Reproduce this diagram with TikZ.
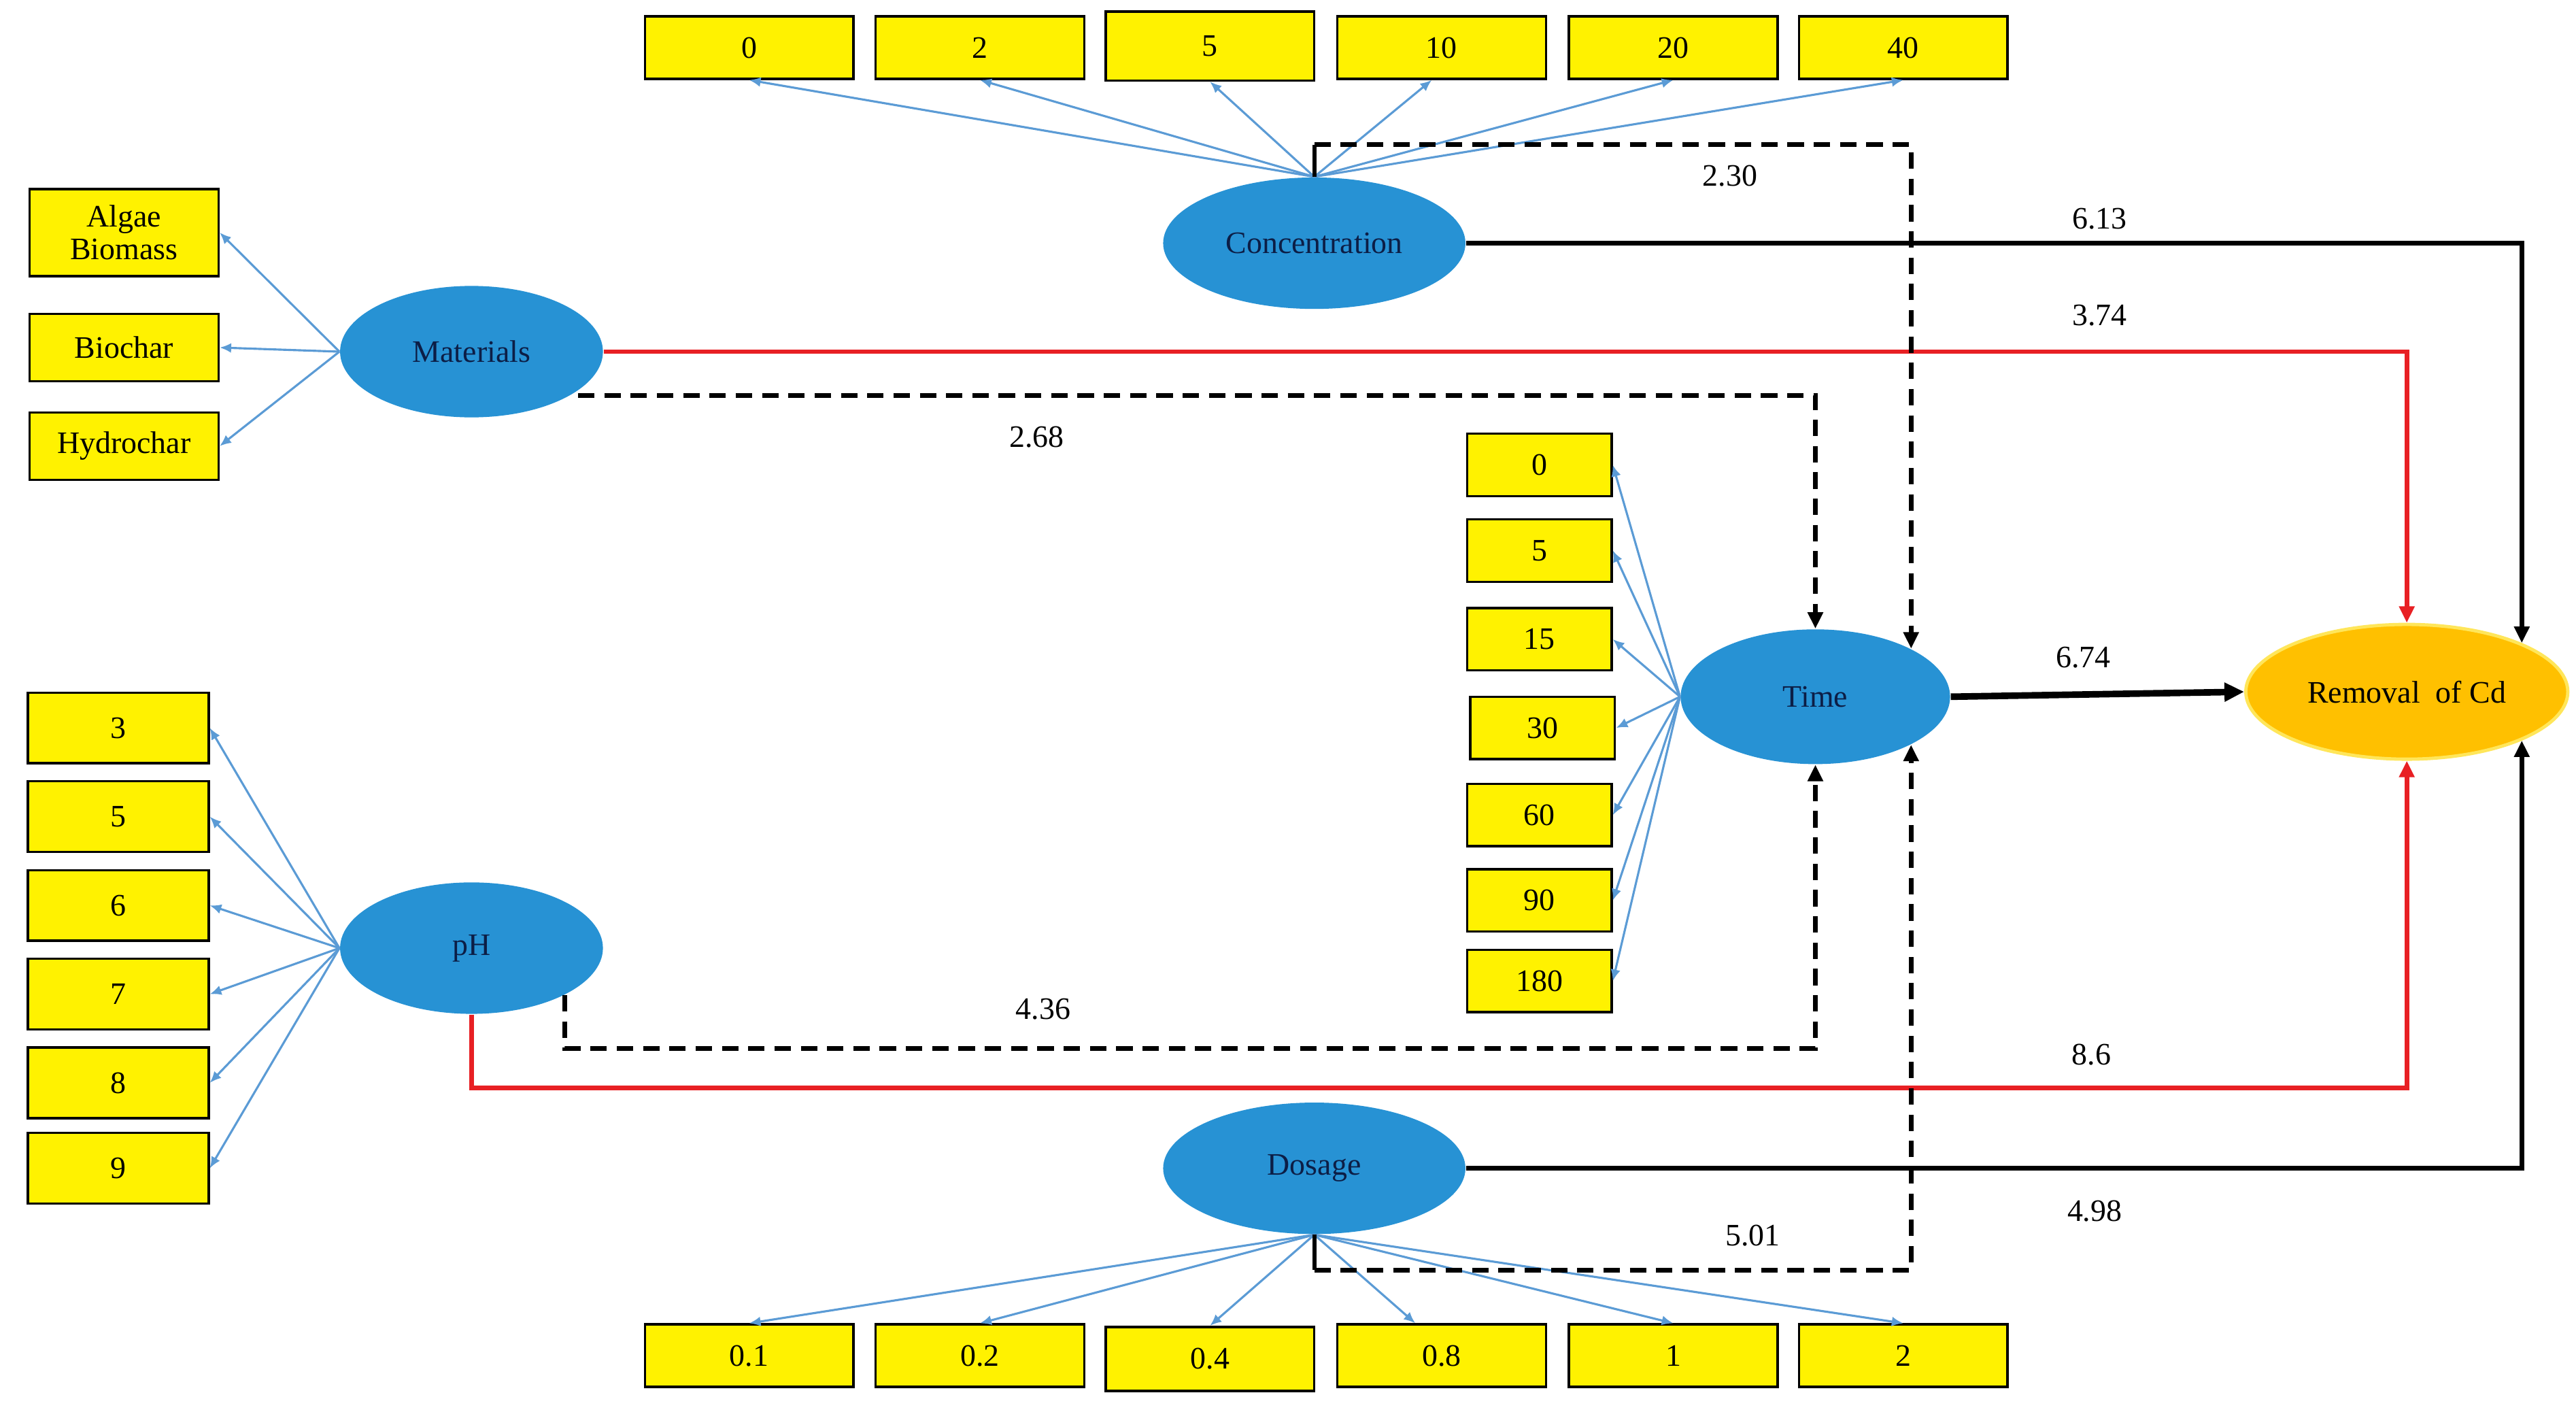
\documentclass[tikz,border=0pt]{standalone}
\usepackage{fontspec}
\setmainfont{Liberation Serif}
\usetikzlibrary{arrows.meta,shapes.geometric}
\definecolor{lvfill}{RGB}{39,146,212}
\definecolor{lvtext}{RGB}{12,30,70}
\definecolor{loadblue}{RGB}{91,155,213}
\definecolor{redpath}{RGB}{232,32,36}
\definecolor{remfill}{RGB}{255,192,0}
\definecolor{remglow}{RGB}{255,230,90}
\begin{document}
\begin{tikzpicture}[x=0.5pt,y=-0.5pt,
  font=\fontsize{9.5}{11}\selectfont,
  ind/.style={draw=black, line width=0.7pt, fill=yellow, inner sep=0pt, align=center},
  topbox/.style={ind, minimum width=63.5pt, minimum height=19pt},
  matbox/.style={ind, minimum width=57.5pt, minimum height=20.5pt},
  phbox/.style={ind, minimum width=55pt, minimum height=21.5pt},
  timebox/.style={ind, minimum width=44pt, minimum height=19pt},
  lat/.style={ellipse, fill=lvfill, inner sep=0pt, text=lvtext},
  load/.style={draw=loadblue, line width=0.65pt, -{Latex[length=3.5pt,width=3pt]}},
  blk/.style={line width=1.4pt, -{Triangle[length=5pt,width=4.5pt]}},
  redln/.style={blk, draw=redpath, color=redpath},
  dsh/.style={blk, dash pattern=on 5pt off 3pt},
  tick/.style={line width=1.2pt},
  coef/.style={inner sep=1pt}]
\useasboundingbox (0,0) rectangle (1568,858);

% ---- latent variables
\node[lat, minimum width=92pt, minimum height=40pt] (conc) at (800,148) {Concentration};
\node[lat, minimum width=80pt, minimum height=40pt] (mat) at (287,214) {Materials};
\node[lat, minimum width=80pt, minimum height=40pt] (ph) at (287,577) {pH};
\node[lat, minimum width=82pt, minimum height=41pt] (time) at (1105,424) {Time};
\node[lat, minimum width=92pt, minimum height=40pt] (dos) at (800,711) {Dosage};
\node[ellipse, fill=remfill, draw=remglow, line width=1pt, inner sep=0pt,
      minimum width=98pt, minimum height=41pt] (rem) at (1465,421) {Removal\ \ of Cd};

% ---- concentration indicators
\node[topbox] (c0) at (456,29) {0};
\node[topbox] (c2) at (596.5,29) {2};
\node[topbox, minimum height=21pt] (c5) at (736.5,28) {5};
\node[topbox] (c10) at (877.5,29) {10};
\node[topbox] (c20) at (1018.5,29) {20};
\node[topbox] (c40) at (1158.5,29) {40};
\foreach \b in {c0,c2,c5,c20,c40} \draw[load] (conc.north) -- (\b.south);
\draw[load] (conc.north) -- ([xshift=-3pt]c10.south);

% ---- materials indicators
\node[matbox, minimum height=26.5pt] (m1) at (75.5,141.5) {Algae\\[-1pt]Biomass};
\node[matbox] (m2) at (75.5,211.5) {Biochar};
\node[matbox] (m3) at (75.5,271.5) {Hydrochar};
\foreach \b in {m1,m2,m3} \draw[load] (mat.west) -- (\b.east);

% ---- pH indicators
\node[phbox] (p3) at (72,443) {3};
\node[phbox] (p5) at (72,497) {5};
\node[phbox] (p6) at (72,551) {6};
\node[phbox] (p7) at (72,605) {7};
\node[phbox] (p8) at (72,659) {8};
\node[phbox] (p9) at (72,711) {9};
\foreach \b in {p3,p5,p6,p7,p8,p9} \draw[load] (ph.west) -- (\b.east);

% ---- time indicators
\node[timebox] (t0) at (937,283) {0};
\node[timebox] (t5) at (937,335) {5};
\node[timebox] (t15) at (937,389) {15};
\node[timebox] (t30) at (939,443) {30};
\node[timebox] (t60) at (937,496) {60};
\node[timebox] (t90) at (937,548) {90};
\node[timebox] (t180) at (937,597) {180};
\foreach \b in {t0,t5,t15,t30,t60,t90,t180} \draw[load] (time.west) -- (\b.east);

% ---- dosage indicators
\node[topbox] (d1) at (456,825) {0.1};
\node[topbox] (d2) at (596.5,825) {0.2};
\node[topbox, minimum height=19.5pt] (d4) at (736.5,827) {0.4};
\node[topbox] (d8) at (877.5,825) {0.8};
\node[topbox] (d10) at (1018.5,825) {1};
\node[topbox] (d20) at (1158.5,825) {2};
\foreach \b in {d1,d2,d4,d10,d20} \draw[load] (dos.south) -- (\b.north);
\draw[load] (dos.south) -- ([xshift=-8pt]d8.north);

% ---- structural paths
\draw[blk] (conc.east) -| (rem.north east);
\draw[redln] (mat.east) -| (rem.north);
\draw[dsh] ([xshift=4pt,yshift=1pt]mat.south east) -| (time.north);
\coordinate (ct) at (800,88);
\draw[tick] (conc.north) -- (ct);
\draw[dsh] (ct) -| (time.north east);
\draw[line width=2pt, -{Triangle[length=6pt,width=5.5pt]}] (time.east) -- (rem.west);
\draw[dsh] (ph.south east) -- (ph.south east |- 0,638) -| (time.south);
\draw[redln] (ph.south) -- (ph.south |- 0,662) -| (rem.south);
\draw[blk] (dos.east) -| (rem.south east);
\coordinate (dt) at (800,773);
\draw[tick] (dos.south) -- (dt);
\draw[dsh] (dt) -| (time.south east);

% ---- coefficients
\node[coef] (k613) at (1278,133) {6.13};
\node[coef] (k374) at (1278,192) {3.74};
\node[coef] (k268) at (631,266) {2.68};
\node[coef] (k230) at (1053,107) {2.30};
\node[coef] (k674) at (1268,400) {6.74};
\node[coef] (k436) at (635,614) {4.36};
\node[coef] (k86) at (1273,642) {8.6};
\node[coef] (k498) at (1275,737) {4.98};
\node[coef] (k501) at (1067,752) {5.01};
\end{tikzpicture}
\end{document}
